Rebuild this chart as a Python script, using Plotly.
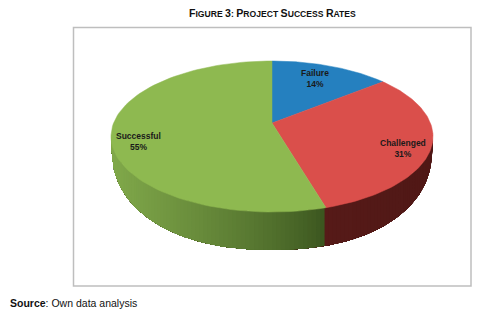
import numpy as np
import plotly.graph_objects as go

# Data (percent shares, clockwise from 12 o'clock)
categories = ["Failure", "Challenged", "Successful"]
values = [14.2, 31.25, 54.55]
top_colors = ["#2580BF", "#DA4F4B", "#8EB950"]

W, H = 477, 313
CX, CY = 272, 123      # where the pie centre lands
A, B, K = 73.1, 158.4, 0.179   # perspective projection of the disc
BASE_RX, BASE_RY, BASE_Y, BASE_N = 160, 100, 150, 2.2   # outline of the pie's underside


def project(theta):
    """theta: radians clockwise from top."""
    u, v = np.sin(theta), -np.cos(theta)
    d = 1 - K * v
    return CX + B * u / d, CY + A * v / d


def base_y(x):
    r = np.clip(np.abs(x - CX) / BASE_RX, 0, 1)
    return BASE_Y + BASE_RY * (1 - r ** BASE_N) ** (1 / BASE_N)


def lerp(c1, c2, t):
    return "rgb(%d,%d,%d)" % tuple(round(a + (b - a) * t) for a, b in zip(c1, c2))


fractions = np.cumsum([0] + values) / sum(values)
edges = fractions * 2 * np.pi

fig = go.Figure()


def poly(xs, ys, color, lw=0.5):
    fig.add_trace(go.Scatter(x=list(xs), y=list(ys), mode="lines", fill="toself",
                             fillcolor=color, line=dict(color=color, width=lw),
                             hoverinfo="skip", showlegend=False))


# side wall: visible part of the rim, between the two extreme x positions of the
# disc; each strip reaches to the wall's end and the next one paints over it
grid = np.linspace(0, 2 * np.pi, 2001)
gx = project(grid)[0]
T = np.linspace(grid[np.argmax(gx)], grid[np.argmin(gx)], 121)
for i in range(len(T) - 1):
    mid = (T[i] + T[i + 1]) / 2
    xm, _ = project(mid)
    if mid < edges[2]:
        s = np.clip((xm - 325) / 105, 0, 1)
        col = lerp((86, 26, 24), (80, 24, 22), s)
    else:
        s = np.clip((325 - xm) / 212, 0, 1)
        col = lerp((58, 84, 30), (128, 168, 74), s ** 0.8)
    xs, ys = project(T[i:])
    poly(np.r_[xs, xs[::-1], xs[0]], np.r_[ys, base_y(xs[::-1]), ys[0]], col, lw=0)

# top face
for i, col in enumerate(top_colors):
    th = np.linspace(edges[i], edges[i + 1], 90)
    xs, ys = project(th)
    poly(np.r_[CX, xs, CX], np.r_[CY, ys, CY], col)

# labels
label_pos = [(314.5, 78), (402.5, 148), (138, 141)]
for name, val, (lx, ly) in zip(categories, values, label_pos):
    fig.add_annotation(x=lx, y=ly, text=f"<b>{name}</b><br><b>{val:.0f}%</b>", showarrow=False,
                       font=dict(family="Liberation Sans", size=8.5, color="#1a1a1a"),
                       xanchor="center", yanchor="middle")

big, small = 10.6, 8.6
def caps(word):
    return f'<span style="font-size:{big}px">{word[0]}</span><span style="font-size:{small}px">{word[1:]}</span>'
title = " ".join(caps(w) for w in ["FIGURE", "3:", "PROJECT", "SUCCESS", "RATES"])
fig.add_annotation(x=272, y=13, text=f"<b>{title}</b>", showarrow=False,
                   font=dict(family="Liberation Sans", size=small, color="#111111"),
                   xanchor="center", yanchor="middle")
fig.add_annotation(x=8, y=303, text="<b>Source</b>: Own data analysis", showarrow=False,
                   font=dict(family="Liberation Sans", size=10.5, color="#111111"),
                   xanchor="left", yanchor="middle")

fig.add_shape(type="rect", x0=73.5, x1=471, y0=27.5, y1=286,
              line=dict(color="#BEBEBE", width=1.5), fillcolor="rgba(0,0,0,0)")

fig.update_layout(width=W, height=H, margin=dict(l=0, r=0, t=0, b=0),
                  paper_bgcolor="white", plot_bgcolor="white", showlegend=False,
                  xaxis=dict(range=[0, W], visible=False, fixedrange=True),
                  yaxis=dict(range=[H, 0], visible=False, fixedrange=True))
fig.write_html("out.html", config={"displayModeBar": False},
               post_script="document.body.style.margin='0';document.body.style.overflow='hidden';")
